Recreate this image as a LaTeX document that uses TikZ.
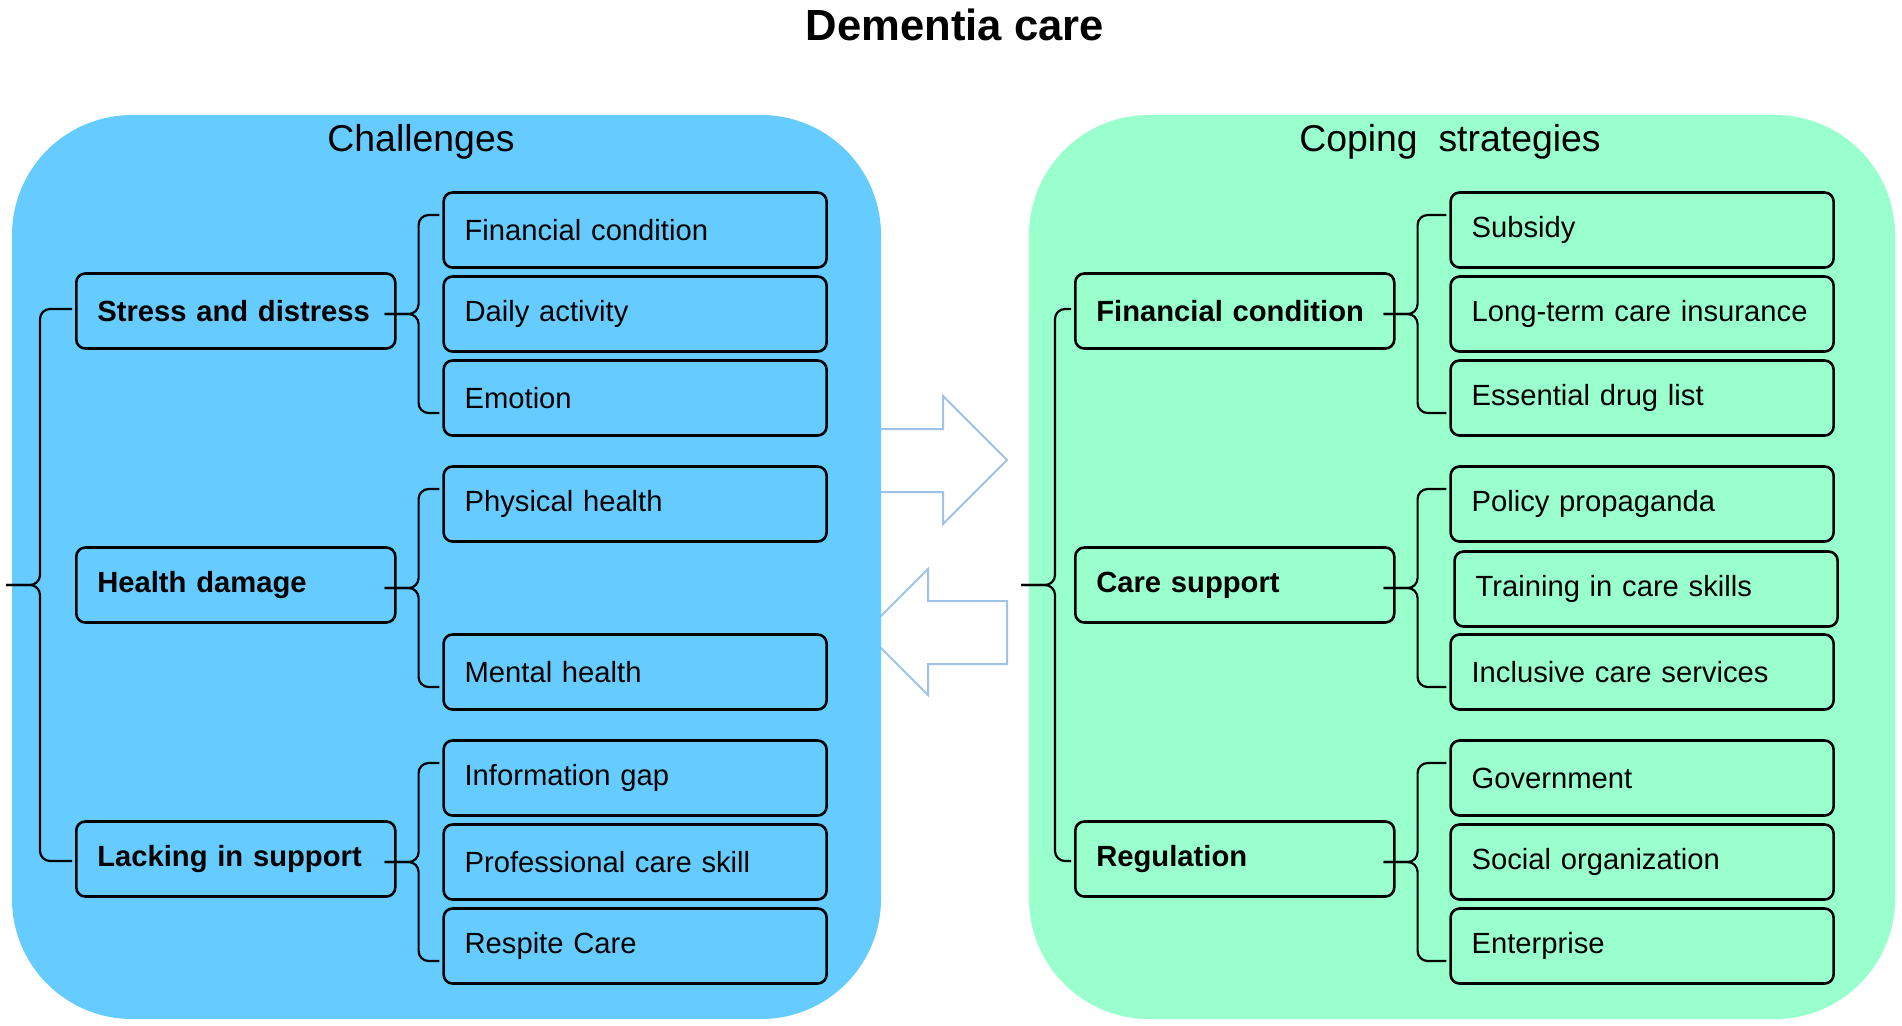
\documentclass[tikz,border=0pt]{standalone}
\usepackage{fontspec}
\setmainfont{Liberation Sans}
\definecolor{chalblue}{RGB}{102,204,255}
\definecolor{copegreen}{RGB}{153,255,204}
\definecolor{arrowblue}{RGB}{157,195,230}
\begin{document}
\begin{tikzpicture}
		[x=0.5pt,y=-0.5pt,
		mynode/.style={draw,rounded corners=4.5pt,line width=1.3pt,anchor=west,
			minimum height=37.5pt,inner xsep=10.5pt,align=left,
			font=\fontsize{14.6}{17}\selectfont},
		topnode/.style={mynode,text width=138.5pt,font=\fontsize{14.6}{17}\selectfont\bfseries},
		subnode/.style={mynode,text width=170.5pt,yshift=-1.5pt},
		panel/.style={rounded corners=60pt,minimum height=452pt,inner sep=0pt},
		heading/.style={font=\fontsize{18.7}{22}\selectfont},
		bracket/.style={line width=1.1pt,rounded corners=5pt},
		bigarrow/.style={draw=arrowblue,line width=1pt,line join=miter},
		grow'=right,
		edge from parent/.style={draw=none}]
		\useasboundingbox (0,0) rectangle (1902,1025);
		\draw[bigarrow] (850,429) -- (943,429) -- (943,396) -- (1007,460) -- (943,524) -- (943,492) -- (850,492);
		\draw[bigarrow] (865,632) -- (928,569) -- (928,601) -- (1007,601) -- (1007,664) -- (928,664) -- (928,695) -- cycle;
		\node[panel,fill=chalblue,minimum width=434.5pt,name=chal] at (446.5,567) {};
		\node[panel,fill=copegreen,minimum width=433pt,name=cope] at (1462,567) {};
		\node[font=\fontsize{21.8}{26}\selectfont\bfseries,name=title] at (955,25) {Dementia care};
		\node[heading,name=chal-t] at (421,142) {Challenges};
		\node[heading,name=cope-t] at (1450,142) {Coping\ \ strategies};
		\node[inner sep=0pt,name=L] at (6,585) {}
		[level 1/.style={level distance=34.5pt,sibling distance=137pt},
		level 2/.style={level distance=103.25pt,sibling distance=42pt}]
		child
		{
			node[topnode,name=sd]{Stress and distress}
			child {node[subnode,name=fc]{Financial condition}}
			child {node[subnode,name=da]{Daily activity}}
			child {node[subnode,name=em]{Emotion}}
		}
		child
		{
			node[topnode,name=hd]{Health damage}
			child {node[subnode,name=ph]{Physical health}}
			child[missing]
			child {node[subnode,name=mh]{Mental health}}
		}
		child
		{
			node[topnode,name=ls]{Lacking in support}
			child {node[subnode,name=ig]{Information gap}}
			child {node[subnode,name=pc]{Professional care skill}}
			child {node[subnode,name=rc]{Respite Care}}
		};
		\node[inner sep=0pt,name=R] at (1021,585) {}
		[level 1/.style={level distance=26.5pt,sibling distance=137pt},
		level 2/.style={level distance=107.25pt,sibling distance=42pt}]
		child
		{
			node[topnode,name=fi]{Financial condition}
			child {node[subnode,name=su]{Subsidy}}
			child {node[subnode,name=lt]{Long-term care insurance}}
			child {node[subnode,name=ed]{Essential drug list}}
		}
		child
		{
			node[topnode,name=cs]{Care support}
			child {node[subnode,name=pp]{Policy propaganda}}
			child {node[subnode,name=tr,xshift=2pt,yshift=-0.5pt]{Training in care skills}}
			child {node[subnode,name=ic]{Inclusive care services}}
		}
		child
		{
			node[topnode,name=rg]{Regulation}
			child {node[subnode,name=go]{Government}}
			child {node[subnode,name=so]{Social organization}}
			child {node[subnode,name=en]{Enterprise}}
		};
		\foreach \n in {sd,hd,ls,fi,cs,rg}
		{
			\coordinate (\n-t) at ([xshift=-6pt,yshift=-1.5pt]\n.east);
		}
		\coordinate (L-t) at (L);
		\coordinate (R-t) at (R);
		\foreach \p/\a/\b/\h in {L/sd/ls/2,sd/fc/em/15,hd/ph/mh/15,ls/ig/rc/15,
			R/fi/rg/2,fi/su/ed/15,cs/pp/ic/15,rg/go/en/15}
		{
			\coordinate (v) at ([xshift=17pt]\p-t);
			\coordinate (a) at ([shift={(-3,-\h)}]\a.west);
			\coordinate (b) at ([shift={(-3,\h)}]\b.west);
			\draw[bracket] (a) -- (a -| v) -- (v |- \p-t) -- (\p-t);
			\draw[bracket] (b) -- (b -| v) -- (v |- \p-t) -- (\p-t);
		}
	\end{tikzpicture}
\end{document}
